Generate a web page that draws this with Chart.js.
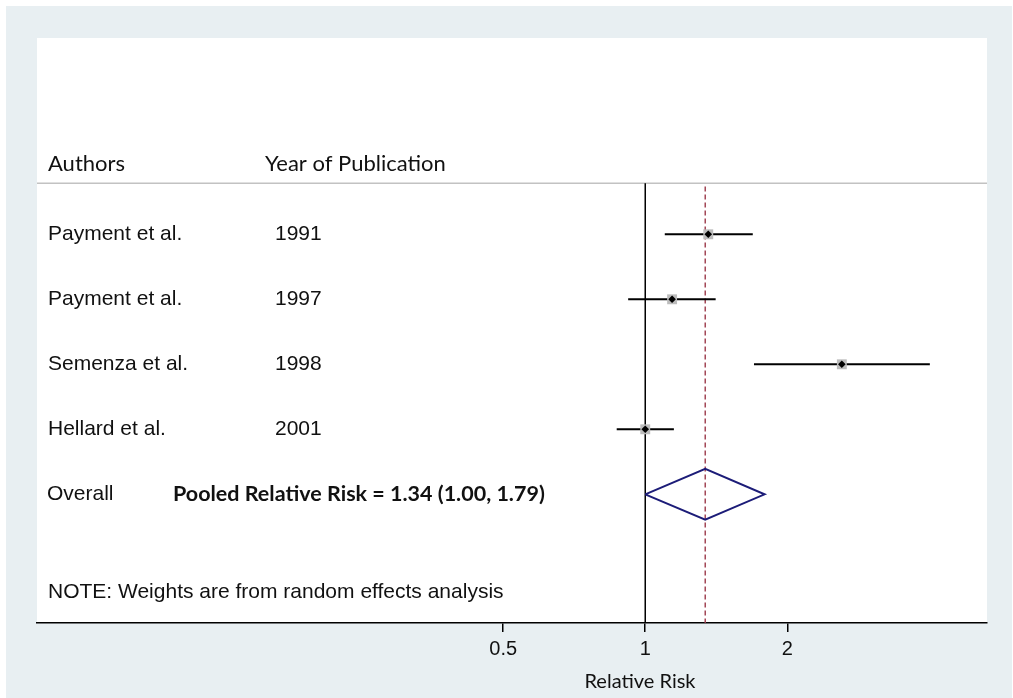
<!DOCTYPE html>
<html>
<head>
<meta charset="utf-8">
<title>Forest plot</title>
<script src="https://cdn.jsdelivr.net/npm/chart.js@4/dist/chart.umd.min.js"></script>
<style>
  html, body { margin: 0; padding: 0; background: #fff; }
  canvas { display: block; }
</style>
</head>
<body>
<canvas id="forest" width="1013" height="698"></canvas>
<script>
// Studies
const authors = ['Payment et al.', 'Payment et al.', 'Semenza et al.', 'Hellard et al.'];
const years = ['1991', '1997', '1998', '2001'];
const rr = [1.36, 1.14, 2.61, 1.00];
const lower = [1.10, 0.92, 1.70, 0.87];
const upper = [1.69, 1.41, 4.01, 1.15];

// Pooled estimate
const pooled = 1.34;
const pooledLower = 1.00;
const pooledUpper = 1.79;
const pooledText = 'Pooled Relative Risk = 1.34 (1.00, 1.79)';

// Axis
const xTicks = [0.5, 1, 2];
const xMin = 0.0514;
const xMax = 5.30;

// rows on the y scale (1..4 studies, 5 overall)
const rows = authors.map((_, i) => i + 1);
const overallRow = 5;
const headerRow = -0.09;
const headerRule = 0.215;
const noteRow = 6.51;
const diamondHalf = 0.39;

const armFont = '21px "Liberation Sans", Arial, sans-serif';
const sansFont = '"Lato", "Open Sans", sans-serif';

const ciSets = rows.map((r, i) => ({
    data: [{ x: lower[i], y: r }, { x: upper[i], y: r }],
    showLine: true,
    borderColor: '#000',
    borderWidth: 2,
    pointRadius: 0,
    order: 2
}));

const datasets = [
    {
        // point estimates
        data: rows.map((r, i) => ({ x: rr[i], y: r })),
        pointStyle: 'rectRot',
        pointRadius: 3.8,
        backgroundColor: '#000',
        borderColor: '#000',
        borderWidth: 0,
        order: 0
    },
    {
        // weight boxes
        data: rows.map((r, i) => ({ x: rr[i], y: r })),
        pointStyle: 'rect',
        pointRadius: 7,
        backgroundColor: '#bcbcbc',
        borderColor: '#bcbcbc',
        borderWidth: 0,
        order: 1
    },
    ...ciSets,
    {
        // pooled diamond
        data: [
            { x: pooledLower, y: overallRow },
            { x: pooled, y: overallRow - diamondHalf },
            { x: pooledUpper, y: overallRow },
            { x: pooled, y: overallRow + diamondHalf },
            { x: pooledLower, y: overallRow }
        ],
        showLine: true,
        borderColor: '#1c1c78',
        borderWidth: 2,
        pointRadius: 0,
        order: 1
    },
    {
        // no effect line
        data: [{ x: 1, y: headerRule }, { x: 1, y: 7 }],
        showLine: true,
        borderColor: '#000',
        borderWidth: 1.5,
        pointRadius: 0,
        order: 3
    },
    {
        // pooled estimate line
        data: [{ x: pooled, y: headerRule + 0.05 }, { x: pooled, y: 7 }],
        showLine: true,
        borderColor: '#9c3a4a',
        borderWidth: 1.4,
        borderDash: [5, 3],
        pointRadius: 0,
        order: 3
    }
];

const forestDecor = {
    id: 'forestDecor',
    beforeDraw(chart) {
        const { ctx, chartArea: a, scales: { y } } = chart;
        ctx.save();
        ctx.fillStyle = '#fff';
        ctx.fillRect(0, 0, chart.width, chart.height);
        ctx.fillStyle = '#e8eff2';
        ctx.fillRect(6, 6, chart.width - 7, chart.height - 6);
        ctx.fillStyle = '#fff';
        ctx.fillRect(a.left, a.top, a.right - a.left, a.bottom - a.top);

        const hy = y.getPixelForValue(headerRule);
        ctx.strokeStyle = '#c2c2c2';
        ctx.lineWidth = 1.5;
        ctx.beginPath();
        ctx.moveTo(a.left, hy);
        ctx.lineTo(a.right, hy);
        ctx.stroke();
        ctx.restore();
    },
    afterDraw(chart) {
        const { ctx, scales: { y } } = chart;
        ctx.save();
        ctx.fillStyle = '#111';
        ctx.textBaseline = 'middle';
        ctx.textAlign = 'left';

        ctx.font = '22px ' + sansFont;
        ctx.fillText('Authors', 48, y.getPixelForValue(headerRow));
        ctx.fillText('Year of Publication', 265, y.getPixelForValue(headerRow));

        ctx.font = armFont;
        rows.forEach((r, i) => {
            const py = y.getPixelForValue(r);
            ctx.fillText(authors[i], 48, py);
            ctx.fillText(years[i], 275, py);
        });
        ctx.fillText('Overall', 47, y.getPixelForValue(overallRow));
        ctx.fillText('NOTE: Weights are from random effects analysis', 48, y.getPixelForValue(noteRow));

        ctx.font = 'bold 21.5px ' + sansFont;
        ctx.fillText(pooledText, 173, y.getPixelForValue(overallRow));

        ctx.font = '20px ' + sansFont;
        ctx.textAlign = 'center';
        ctx.fillText('Relative Risk', 640, 682);
        ctx.restore();
    }
};

new Chart(document.getElementById('forest'), {
    type: 'scatter',
    data: { datasets },
    options: {
        responsive: false,
        animation: false,
        layout: { padding: { left: 37, right: 26, top: 38, bottom: 0 } },
        plugins: {
            legend: { display: false },
            tooltip: { enabled: false }
        },
        scales: {
            x: {
                type: 'logarithmic',
                min: xMin,
                max: xMax,
                afterBuildTicks(scale) {
                    scale.ticks = xTicks.map(v => ({ value: v }));
                },
                afterFit(scale) {
                    scale.height = 75;
                },
                grid: {
                    drawOnChartArea: false,
                    drawTicks: true,
                    tickLength: 9,
                    color: '#000',
                    lineWidth: 1.5
                },
                border: { display: true, color: '#000', width: 1.5 },
                ticks: {
                    color: '#111',
                    padding: 5,
                    maxRotation: 0,
                    autoSkip: false,
                    font: { family: '"Liberation Sans", Arial, sans-serif', size: 20 },
                    callback: v => String(v)
                }
            },
            y: {
                type: 'linear',
                reverse: true,
                min: -2.02,
                max: 6.98,
                display: false
            }
        }
    },
    plugins: [forestDecor]
});
</script>
</body>
</html>
